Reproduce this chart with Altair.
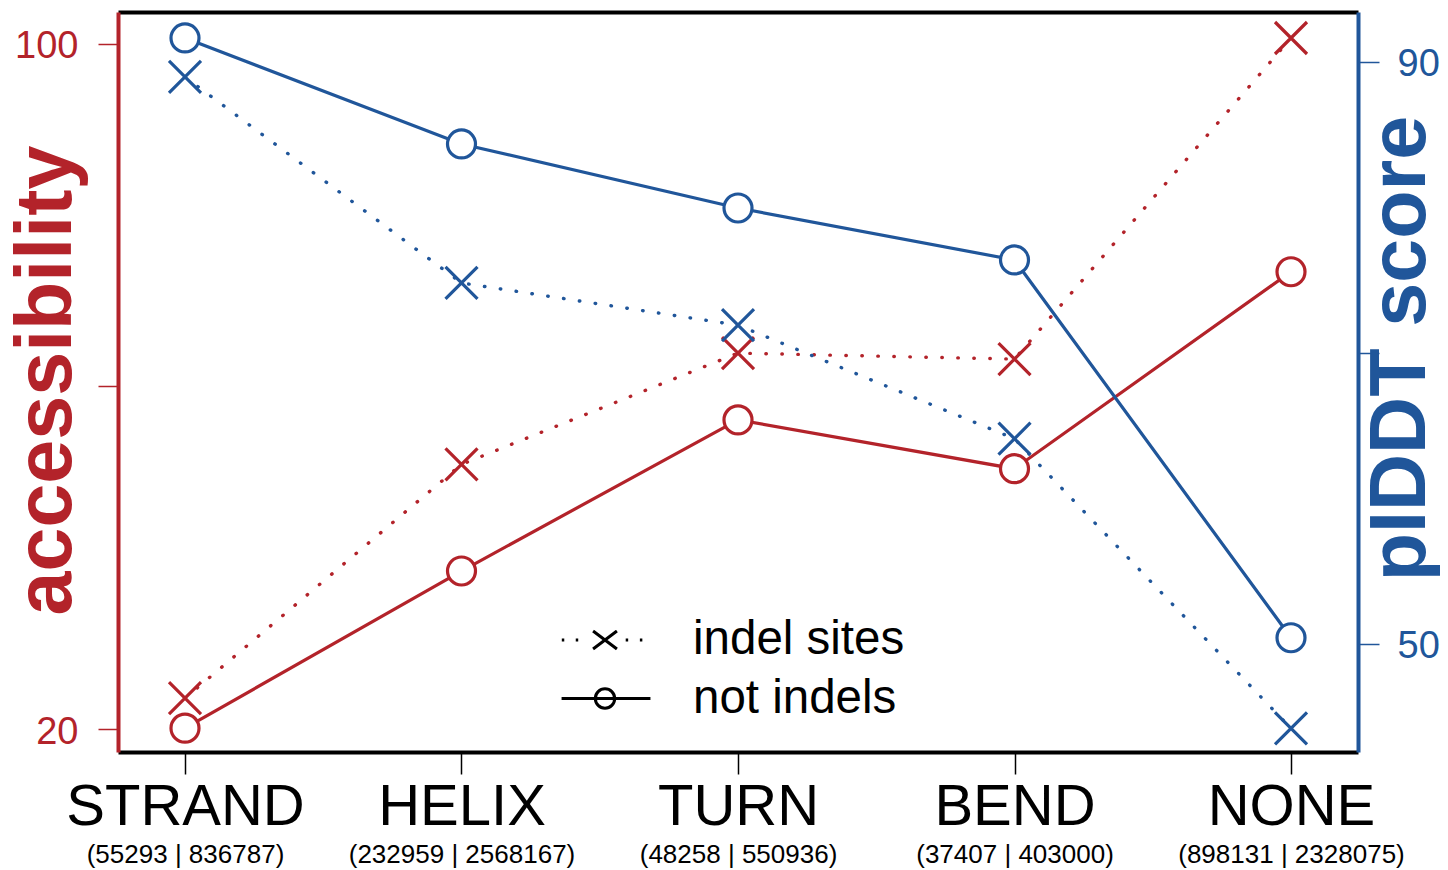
import altair as alt
import pandas as pd

RED = "#B3232A"
BLUE = "#20569A"
FONT = "Liberation Sans"

categories = ["STRAND", "HELIX", "TURN", "BEND", "NONE"]
counts = ["(55293 | 836787)", "(232959 | 2568167)", "(48258 | 550936)",
          "(37407 | 403000)", "(898131 | 2328075)"]
acc_indel = [23.6, 50.9, 63.9, 63.2, 100.7]
acc_not = [20.1, 38.45, 56.1, 50.4, 73.4]
plddt_indel = [88.95, 74.8, 71.9, 64.1, 44.2]
plddt_not = [91.63, 84.35, 79.95, 76.38, 50.43]
legend_labels = ["indel sites", "not indels"]

df = pd.DataFrame({
    "cat": categories,
    "acc_indel": acc_indel,
    "acc_not": acc_not,
    "plddt_indel": plddt_indel,
    "plddt_not": plddt_not,
})
df_leg = pd.DataFrame({"type": legend_labels})

XPATH = "M-1,-1L1,1M-1,1L1,-1"
P_INDEL = ("M-1.92,0L-1.81,0M-1.30,0L-1.19,0M-0.06,0L0.06,0M0.92,0L1.03,0"
           "M1.55,0L1.66,0M-0.53,-0.4L0.53,0.4M-0.53,0.4L0.53,-0.4")
P_NOT = "M-1.93,0L2.02,0M0.43,0A0.43,0.43 0 1,1 -0.43,0A0.43,0.43 0 1,1 0.43,0"

xscale = alt.Scale(type="point", domain=categories, padding=0.2423)
x_axis = alt.Axis(title=None, labelFontSize=58, labelColor="black", labelPadding=4,
                  tickSize=22, tickWidth=1.5, tickColor="black", domainColor="black",
                  domainWidth=4, labelAngle=0, grid=False, zindex=1, labelFont=FONT,
                  orient="bottom", labelLimit=0)
X = alt.X("cat:N", scale=xscale, sort=categories, axis=x_axis)

expr = "''"
for c, n in zip(reversed(categories), reversed(counts)):
    expr = f"datum.label == '{c}' ? '{n}' : " + expr
count_axis = alt.Axis(title=None, labelFontSize=26, labelPadding=89, ticks=False,
                      tickSize=0, domain=False, labelAngle=0, grid=False,
                      labelExpr=expr, labelColor="black", labelFont=FONT,
                      orient="bottom", labelLimit=0)
top_axis = alt.Axis(title=None, orient="top", labels=False, ticks=False, grid=False,
                    domain=True, domainColor="black", domainWidth=4, zindex=0)

yl_scale = alt.Scale(domain=[17.314, 103.737], nice=False, zero=False)
yl_axis = alt.Axis(orient="left", values=[20, 60, 100],
                   labelExpr="datum.value == 60 ? '' : datum.label",
                   title="accessibility", titleFontSize=79, titleFontWeight="bold",
                   titleColor=RED, titleX=-48, titleY=368, titleAngle=270,
                   titleBaseline="alphabetic", titleAlign="center", titleFont=FONT,
                   labelFontSize=38, labelColor=RED, labelPadding=20, labelOffset=3,
                   labelFont=FONT, tickSize=20, tickWidth=1.5, tickColor=RED,
                   domainColor=RED, domainWidth=4, grid=False, zindex=1)
yr_scale = alt.Scale(domain=[42.581, 93.414], nice=False, zero=False)
yr_axis = alt.Axis(orient="right", values=[50, 70, 90],
                   labelExpr="datum.value == 70 ? '' : datum.label",
                   title="pIDDT score", titleFontSize=79, titleFontWeight="bold",
                   titleColor=BLUE, titleX=66, titleY=336, titleAngle=270,
                   titleBaseline="alphabetic", titleAlign="center", titleFont=FONT,
                   labelFontSize=38, labelColor=BLUE, labelPadding=18, labelOffset=3,
                   labelFont=FONT, tickSize=21, tickWidth=1.5, tickColor=BLUE,
                   domainColor=BLUE, domainWidth=4, grid=False, zindex=1)

base = alt.Chart(df)


def group(f_indel, f_not, color, scale, axis):
    y1 = alt.Y(f"{f_indel}:Q", scale=scale, axis=axis)
    y2 = alt.Y(f"{f_not}:Q", scale=scale, axis=axis)
    dot = base.mark_line(color=color, strokeWidth=3.4, strokeDash=[0.5, 15.5],
                         strokeCap="round").encode(x=X, y=y1)
    solid = base.mark_line(color=color, strokeWidth=3.2).encode(x=X, y=y2)
    xs = base.mark_point(shape=XPATH, size=1024, color=color, strokeWidth=3.2,
                         opacity=1).encode(x=X, y=y1)
    os_ = base.mark_point(shape="circle", size=784, filled=True, fill="white",
                          stroke=color, strokeWidth=3.2, opacity=1).encode(x=X, y=y2)
    return alt.layer(dot, solid, xs, os_)


red = group("acc_indel", "acc_not", RED, yl_scale, yl_axis)
blue = group("plddt_indel", "plddt_not", BLUE, yr_scale, yr_axis)

legend_layer = alt.Chart(df_leg).mark_point(color="black", opacity=1).encode(
    shape=alt.Shape("type:N",
                    scale=alt.Scale(domain=legend_labels, range=[P_INDEL, P_NOT]),
                    legend=alt.Legend(title=None, orient="none", legendX=463, legendY=604,
                                      labelFontSize=47.5, labelFont=FONT, labelColor="black",
                                      symbolSize=2025, symbolStrokeWidth=3,
                                      symbolStrokeColor="black",
                                      symbolFillColor="transparent", labelLimit=0,
                                      labelOffset=64, rowPadding=10.5, padding=0))
).transform_filter("false")

inner = alt.layer(red, blue, legend_layer).resolve_scale(y="independent")

count_layer = alt.Chart(df).mark_point(opacity=0).encode(
    x=alt.X("cat:N", scale=xscale, sort=categories, axis=count_axis))
top_layer = alt.Chart(df).mark_point(opacity=0).encode(
    x=alt.X("cat:N", scale=xscale, sort=categories, axis=top_axis))

chart = alt.layer(inner, count_layer, top_layer).resolve_scale(x="independent").properties(
    width=1240, height=740,
    padding={"left": 110, "top": 4, "right": 82, "bottom": 116},
    autosize=alt.AutoSizeParams(type="none"),
).configure(font=FONT).configure_view(strokeWidth=0)

chart.save("out.html", embed_options={"renderer": "svg", "actions": False})
